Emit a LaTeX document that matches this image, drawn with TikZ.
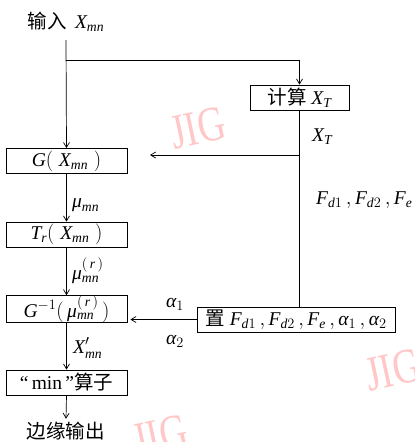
\documentclass[tikz,border=0pt]{standalone}
\usepackage{amsmath}
\usepackage{fontspec}
\setmainfont{Liberation Serif}
\newfontfamily\cjk{Noto Sans CJK SC}
\usetikzlibrary{arrows.meta}
\newcommand\ti[1]{\text{\itshape #1}}
\newcommand\cm{\,,}
\begin{document}
\begin{tikzpicture}[x=1pt,y=-1pt,
 box/.style={draw,line width=0.8pt,minimum height=25pt,inner sep=0pt,font=\fontsize{19.5}{21}\selectfont},
 lab/.style={font=\fontsize{19.5}{21}\selectfont,inner sep=0pt},
 arr/.style={-{Straight Barb[length=5pt,width=6pt]},line width=0.7pt},
 ln/.style={line width=0.7pt},
 wm/.style={font=\fontsize{38}{40}\selectfont,text=red!22,inner sep=0pt}]
\useasboundingbox (0,0) rectangle (415,442);
% watermarks
\node[wm,rotate=12,yscale=1.3] (w1) at (198,128) {JIG};
\node[wm,rotate=12,yscale=1.3] (w2) at (393,370) {JIG};
\node[wm,rotate=12,yscale=1.3] (w3) at (160,436) {JIG};
% nodes
\node[lab] (in) at (66,22) {{\cjk 输入}\, $\ti{X}_{\ti{mn}}$};
\node[box,minimum width=99pt] (calc) at (299.5,97.5) {{\cjk 计算} $\ti{X}_{\ti{T}}$};
\node[box,minimum width=121pt] (G) at (66.5,161) {$\ti{G}(\;\ti{X}_{\ti{mn}}\;)$};
\node[box,minimum width=121pt] (T) at (66.5,234.5) {$\ti{T}_{\ti{r}}(\;\ti{X}_{\ti{mn}}\;)$};
\node[box,minimum width=121pt,minimum height=26pt] (Gi) at (66.5,309) {$\ti{G}^{-1}(\,\ti{μ}^{(\,\ti{r}\,)}_{\ti{mn}}\,)$};
\node[box,minimum width=121pt] (mn) at (66.5,382.5) {“\,min\,”{\cjk 算子}};
\node[box,minimum width=198pt] (set) at (296,319.5) {{\cjk 置} $\ti{F}_{\ti{d}1}\cm\ti{F}_{\ti{d}2}\cm\ti{F}_{\ti{e}}\cm\ti{α}_{1}\cm\ti{α}_{2}$};
\node[lab] (out) at (66,431) {\cjk 边缘输出};
% labels
\node[lab,anchor=west] (lxt) at (312,137) {$\ti{X}_{\ti{T}}$};
\node[lab,anchor=west] (lf) at (316,200) {$\ti{F}_{\ti{d}1}\cm\ti{F}_{\ti{d}2}\cm\ti{F}_{\ti{e}}$};
\node[lab] (la1) at (175,304) {$\ti{α}_{1}$};
\node[lab] (la2) at (175,341) {$\ti{α}_{2}$};
\node[lab,anchor=west] (lmu) at (72,205) {$\ti{μ}_{\ti{mn}}$};
\node[lab,anchor=west] (lmur) at (72,271) {$\ti{μ}^{(\,\ti{r}\,)}_{\ti{mn}}$};
\node[lab,anchor=west] (lx) at (73,348) {$\ti{X}'_{\ti{mn}}$};
% connectors
\coordinate (st) at (66,40);
\coordinate (br) at (66,60);
\coordinate (j) at (300,155);
\coordinate (gt) at (150,155);
\draw[arr] (st) -- (G.north);
\draw[arr] (br) -| (calc.north);
\draw[ln] (calc.south) -- (calc.south |- set.north);
\draw[arr] (j) -- (gt);
\draw[arr] (set.west) -- ([xshift=3pt]Gi.east |- set.west);
\draw[arr] (G.south) -- (T.north);
\draw[arr] (T.south) -- (Gi.north);
\draw[arr] (Gi.south) -- (mn.north);
\draw[arr] (mn.south) -- ([yshift=3pt]out.north);
\end{tikzpicture}
\end{document}
